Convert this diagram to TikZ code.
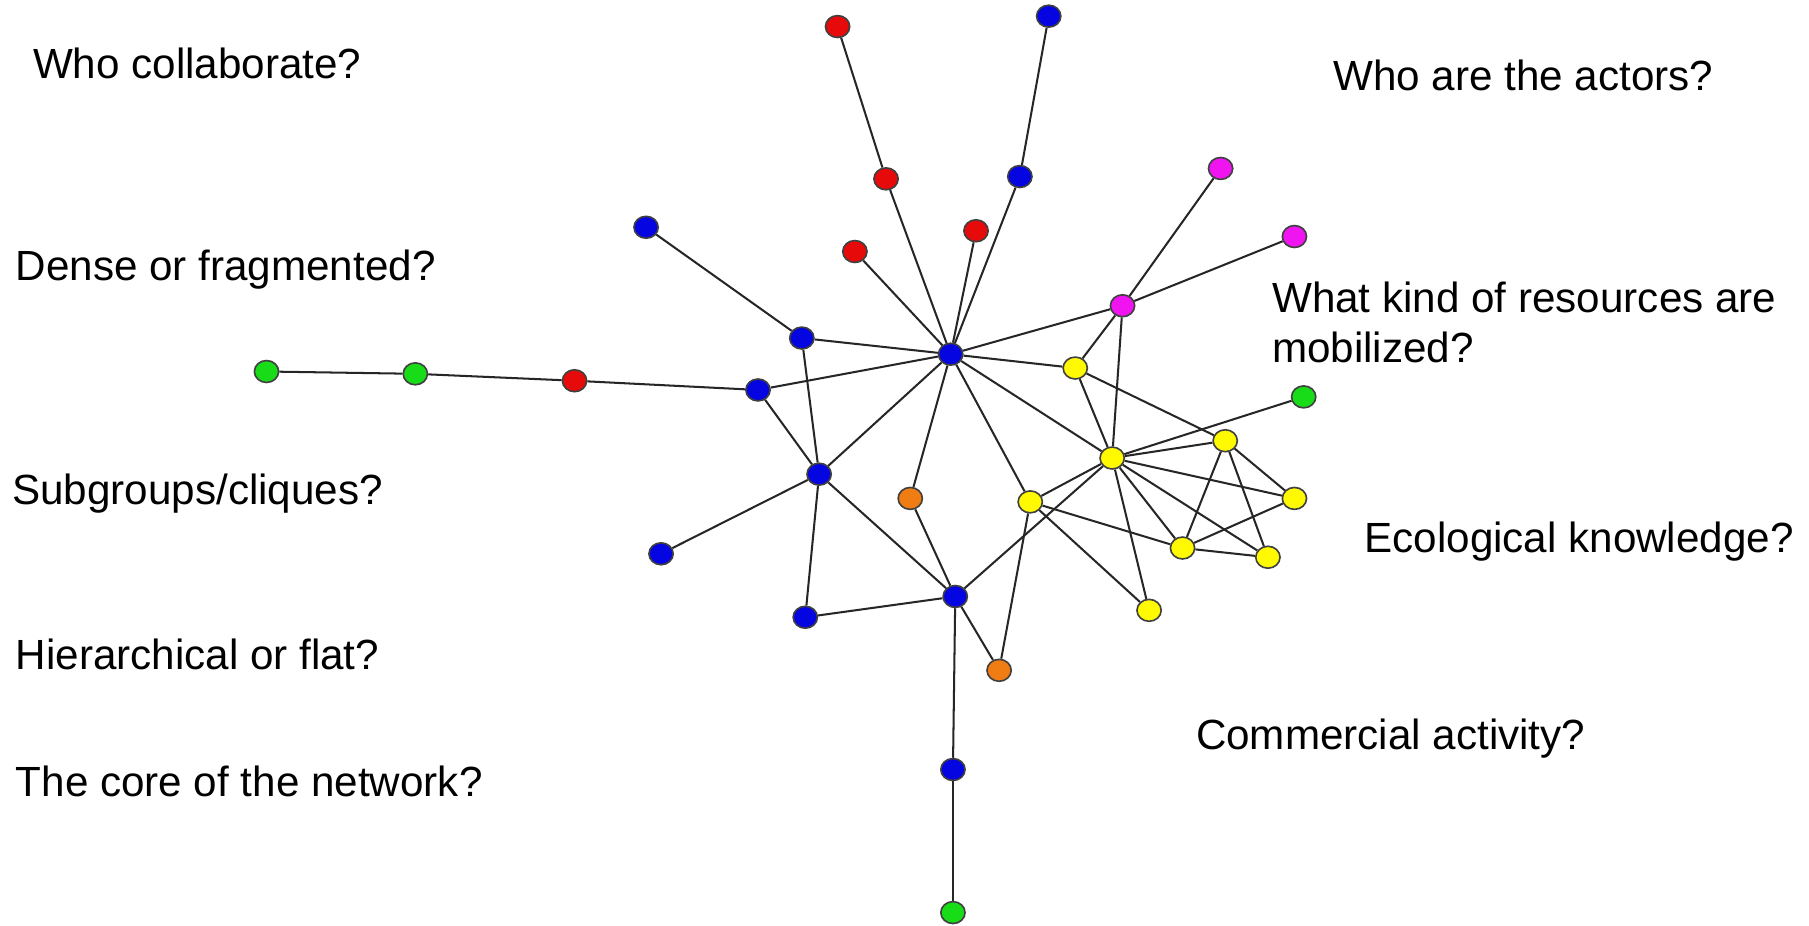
\documentclass[tikz,border=0pt]{standalone}
\usepackage{fontspec}
\setmainfont{Liberation Sans}
\usepackage{tikz}
\usetikzlibrary{shapes.geometric}
\usepackage{xcolor}

\definecolor{actblue}{RGB}{5,5,225}
\definecolor{actred}{RGB}{230,10,10}
\definecolor{actgreen}{RGB}{25,220,25}
\definecolor{actyellow}{RGB}{255,250,0}
\definecolor{actpink}{RGB}{240,20,240}
\definecolor{actorange}{RGB}{240,125,20}

\tikzset{
  actor/.style={ellipse, draw=black!75, line width=0.4pt, inner sep=0pt,
    minimum width=0.21cm, minimum height=0.19cm},
  question/.style={anchor=base west, inner sep=0pt,
    font=\fontsize{10.4pt}{12.5pt}\selectfont},
  tie/.style={draw=black!85, line width=0.5pt}
}

\begin{document}
\begin{tikzpicture}[x=0.01cm, y=-0.01cm]
  \useasboundingbox[fill=white] (0,0) rectangle (1568,802);

  % Define coordinates for nodes
  \node[actor, fill=actred] (rA) at (726, 23) {};
  \node[actor, fill=actblue] (bA) at (909, 14) {};
  \node[actor, fill=actred] (rB) at (768, 155) {};
  \node[actor, fill=actblue] (bB) at (884, 153) {};
  \node[actor, fill=actpink] (pA) at (1058, 146) {};
  \node[actor, fill=actpink] (pB) at (1122, 205) {};
  \node[actor, fill=actblue] (bC) at (560, 197) {};
  \node[actor, fill=actred] (rC) at (741, 218) {};
  \node[actor, fill=actred] (rD) at (846, 200) {};
  \node[actor, fill=actpink] (pC) at (973, 265) {};
  \node[actor, fill=actblue] (core) at (824, 307) {};
  \node[actor, fill=actblue] (bD) at (695, 293) {};
  \node[actor, fill=actblue] (bE) at (657, 338) {};
  \node[actor, fill=actgreen] (gA) at (231, 322) {};
  \node[actor, fill=actgreen] (gB) at (360, 324) {};
  \node[actor, fill=actred] (rE) at (498, 330) {};
  \node[actor, fill=actyellow] (yA) at (932, 319) {};
  \node[actor, fill=actgreen] (gC) at (1130, 344) {};
  \node[actor, fill=actyellow] (yB) at (964, 397) {};
  \node[actor, fill=actyellow] (yC) at (1062, 382) {};
  \node[actor, fill=actblue] (bF) at (710, 411) {};
  \node[actor, fill=actorange] (oA) at (789, 432) {};
  \node[actor, fill=actyellow] (yD) at (893, 435) {};
  \node[actor, fill=actyellow] (yE) at (1122, 432) {};
  \node[actor, fill=actyellow] (yF) at (1025, 475) {};
  \node[actor, fill=actyellow] (yG) at (1099, 483) {};
  \node[actor, fill=actblue] (bG) at (573, 480) {};
  \node[actor, fill=actblue] (bH) at (828, 517) {};
  \node[actor, fill=actblue] (bI) at (698, 535) {};
  \node[actor, fill=actyellow] (yH) at (996, 529) {};
  \node[actor, fill=actorange] (oB) at (866, 581) {};
  \node[actor, fill=actblue] (bJ) at (826, 667) {};
  \node[actor, fill=actgreen] (gD) at (826, 791) {};

  % Questions around the network
  \node[question] (qCollab) at (28, 68) {Who collaborate?};
  \node[question] (qActors) at (1155, 78) {Who are the actors?};
  \node[question] (qDense) at (13, 243) {Dense or fragmented?};
  \node[question] (qRes) at (1102, 271) {What kind of resources are};
  \node[question] (qMob) at (1102, 314) {mobilized?};
  \node[question] (qSub) at (10, 437) {Subgroups/cliques?};
  \node[question] (qEco) at (1182, 479) {Ecological knowledge?};
  \node[question] (qHier) at (13, 580) {Hierarchical or flat?};
  \node[question] (qComm) at (1036, 650) {Commercial activity?};
  \node[question] (qCore) at (13, 690) {The core of the network?};

  % Draw ties between nodes
  \draw[tie] (rA) -- (rB);
  \draw[tie] (rB) -- (core);
  \draw[tie] (bA) -- (bB);
  \draw[tie] (bB) -- (core);
  \draw[tie] (rC) -- (core);
  \draw[tie] (rD) -- (core);
  \draw[tie] (bC) -- (bD);
  \draw[tie] (bD) -- (core);
  \draw[tie] (bD) -- (bF);
  \draw[tie] (bE) -- (core);
  \draw[tie] (bE) -- (rE);
  \draw[tie] (rE) -- (gB);
  \draw[tie] (gB) -- (gA);
  \draw[tie] (bE) -- (bF);
  \draw[tie] (core) -- (pC);
  \draw[tie] (pC) -- (pA);
  \draw[tie] (pC) -- (pB);
  \draw[tie] (pC) -- (yA);
  \draw[tie] (pC) -- (yB);
  \draw[tie] (core) -- (yA);
  \draw[tie] (core) -- (yB);
  \draw[tie] (core) -- (yD);
  \draw[tie] (core) -- (oA);
  \draw[tie] (core) -- (bF);
  \draw[tie] (bF) -- (bG);
  \draw[tie] (bF) -- (bI);
  \draw[tie] (bF) -- (bH);
  \draw[tie] (bI) -- (bH);
  \draw[tie] (oA) -- (bH);
  \draw[tie] (bH) -- (bJ);
  \draw[tie] (bJ) -- (gD);
  \draw[tie] (bH) -- (yB);
  \draw[tie] (bH) -- (oB);
  \draw[tie] (yD) -- (oB);
  \draw[tie] (yA) -- (yB);
  \draw[tie] (yA) -- (yC);
  \draw[tie] (yB) -- (gC);
  \draw[tie] (yB) -- (yC);
  \draw[tie] (yB) -- (yE);
  \draw[tie] (yB) -- (yF);
  \draw[tie] (yB) -- (yG);
  \draw[tie] (yB) -- (yH);
  \draw[tie] (yB) -- (yD);
  \draw[tie] (yD) -- (yF);
  \draw[tie] (yD) -- (yH);
  \draw[tie] (yC) -- (yF);
  \draw[tie] (yC) -- (yG);
  \draw[tie] (yC) -- (yE);
  \draw[tie] (yE) -- (yF);
  \draw[tie] (yF) -- (yG);
\end{tikzpicture}
\end{document}
